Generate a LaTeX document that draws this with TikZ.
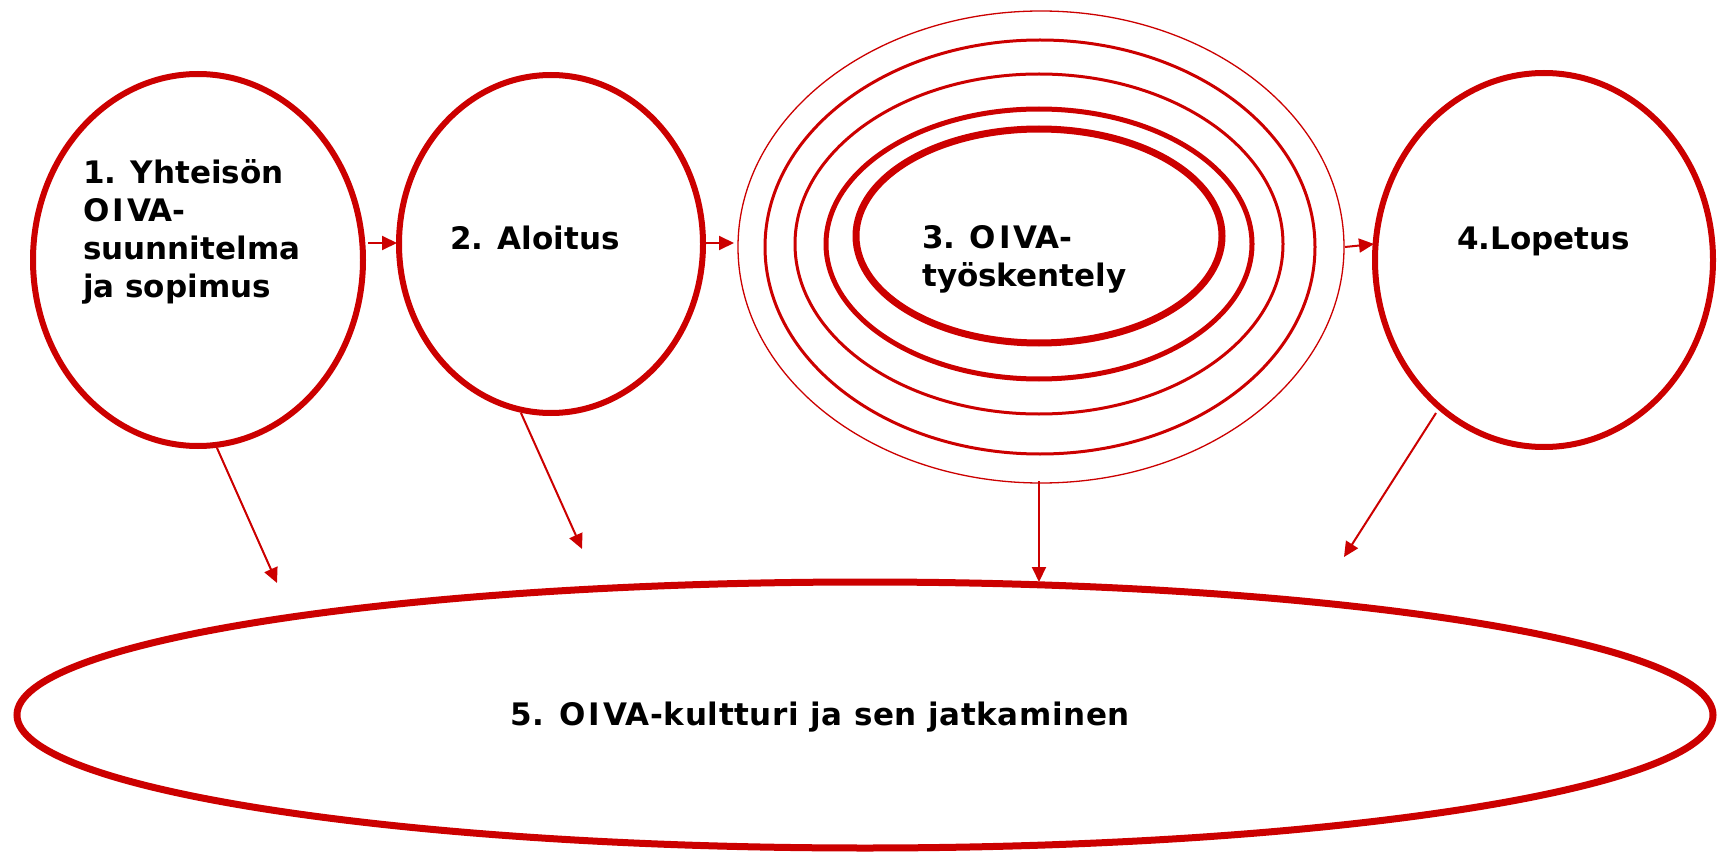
\documentclass[tikz,border=0pt]{standalone}
\usepackage{fontspec}
\setmainfont{DejaVu Sans}
\usetikzlibrary{shapes.geometric,arrows.meta}
\definecolor{oivared}{RGB}{204,0,0}
\newcommand{\oiva}{O\kern3ptI\kern3ptVA}
\begin{document}
\begin{tikzpicture}[x=1pt,y=-1pt,
  ring/.style={draw=oivared, ellipse, inner sep=0pt, outer sep=0pt},
  lbl/.style={font=\fontsize{31}{38}\selectfont\bfseries, text=black, inner sep=0pt, anchor=base west, align=left},
  arr/.style={draw=oivared, line width=2pt, -{Triangle[length=15pt,width=14pt]}}]
\useasboundingbox (0,0) rectangle (1719,853);
\fill[white] (0,0) rectangle (1719,853);

% step ellipses
\node[ring, line width=6pt, minimum width=330pt, minimum height=372pt] (e1) at (198,260) {};
\node[ring, line width=6pt, minimum width=304pt, minimum height=338pt] (e2) at (551,244) {};
\node[ring, line width=1.3pt, minimum width=606pt, minimum height=472pt] (e3a) at (1041,247) {};
\node[ring, line width=3pt, minimum width=550pt, minimum height=414pt] (e3b) at (1040,247) {};
\node[ring, line width=3pt, minimum width=488pt, minimum height=340pt] (e3c) at (1039,244) {};
\node[ring, line width=5pt, minimum width=426pt, minimum height=270pt] (e3d) at (1039,244) {};
\node[ring, line width=7pt, minimum width=366pt, minimum height=214pt] (e3e) at (1039,236) {};
\node[ring, line width=6pt, minimum width=338pt, minimum height=374pt] (e4) at (1544,260) {};
\node[ring, line width=7pt, minimum width=1696pt, minimum height=266pt] (e5) at (865,715) {};

% labels (base anchor = baseline of the last line)
\node[lbl] (t1) at (83,297) {1. Yhteisön\\\oiva-\\suunnitelma\\ja sopimus};
\node[lbl] (t2) at (450,250) {2. Aloitus};
\node[lbl] (t3) at (922,287) {3. \oiva-\\työskentely};
\node[lbl] (t4) at (1457,250) {4.Lopetus};
\node[lbl] (t5) at (510,725) {\addfontfeature{LetterSpace=2}5. \oiva-kultturi ja sen jatkaminen};

% connector ends
\coordinate (h1s) at (368,243); \coordinate (h1e) at (397,243);
\coordinate (h2s) at (705,243); \coordinate (h2e) at (734,243);
\coordinate (h3s) at (1345,247); \coordinate (h3e) at (1374,244);
\coordinate (d1s) at (217,448); \coordinate (d1e) at (277,583);
\coordinate (d2s) at (521,413); \coordinate (d2e) at (582,549);
\coordinate (d3s) at (1039,481); \coordinate (d3e) at (1039,582);
\coordinate (d4s) at (1436,413); \coordinate (d4e) at (1344,557);

\draw[arr] (h1s) -- (h1e);
\draw[arr] (h2s) -- (h2e);
\draw[arr] (h3s) -- (h3e);
\draw[arr] (d1s) -- (d1e);
\draw[arr] (d2s) -- (d2e);
\draw[arr] (d3s) -- (d3e);
\draw[arr] (d4s) -- (d4e);
\end{tikzpicture}
\end{document}
